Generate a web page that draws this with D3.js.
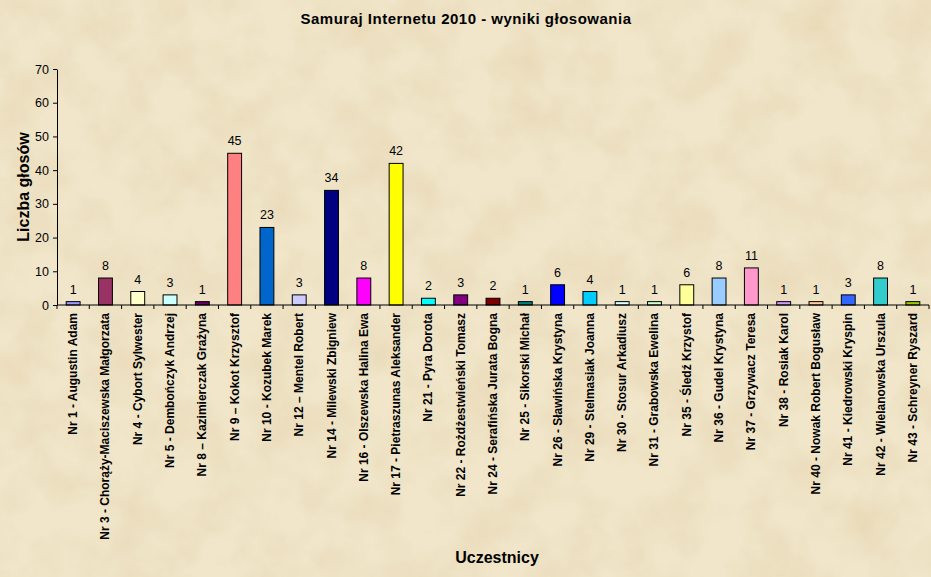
<!DOCTYPE html>
<html>
<head>
<meta charset="utf-8">
<script src="https://cdnjs.cloudflare.com/ajax/libs/d3/7.8.5/d3.min.js"></script>
<style>
  body { margin: 0; background: #ecdfc1; }
  svg { display: block; font-family: "Liberation Sans", Arial, sans-serif; }
  .axis path, .axis line { stroke: #000; }
  .axis text { fill: #000; }
</style>
</head>
<body>
<script>
// data
const candidates = [
  "Nr 1 - Augustin Adam", "Nr 3 - Chorąży-Maciszewska Małgorzata", "Nr 4 - Cybort Sylwester",
  "Nr 5 - Dembończyk Andrzej", "Nr 8 – Kazimierczak Grażyna", "Nr 9 – Kokot Krzysztof",
  "Nr 10 - Kozubek Marek", "Nr 12 – Mentel Robert", "Nr 14 - Milewski Zbigniew",
  "Nr 16 - Olszewska Halina Ewa", "Nr 17 - Pietraszunas Aleksander", "Nr 21 - Pyra Dorota",
  "Nr 22 - Rożdżestwieński Tomasz", "Nr 24 - Serafińska Jurata Bogna", "Nr 25 - Sikorski Michał",
  "Nr 26 - Sławińska Krystyna", "Nr 29 - Stelmasiak Joanna", "Nr 30 - Stosur Arkadiusz",
  "Nr 31 - Grabowska Ewelina", "Nr 35 - Śledź Krzystof", "Nr 36 - Gudel Krystyna",
  "Nr 37 - Grzywacz Teresa", "Nr 38 - Rosiak Karol", "Nr 40 - Nowak Robert Bogusław",
  "Nr 41 - Kiedrowski Kryspin", "Nr 42 - Wielanowska Urszula", "Nr 43 - Schreyner Ryszard"
];
const votes = [1, 8, 4, 3, 1, 45, 23, 3, 34, 8, 42, 2, 3, 2, 1, 6, 4, 1, 1, 6, 8, 11, 1, 1, 3, 8, 1];
const barColors = [
  "#9999ff", "#993366", "#ffffcc", "#ccffff", "#660066", "#ff8080", "#0066cc", "#ccccff", "#000080",
  "#ff00ff", "#ffff00", "#00ffff", "#800080", "#800000", "#008080", "#0000ff", "#00ccff", "#ddffff",
  "#ccffcc", "#ffff99", "#99ccff", "#ff99cc", "#cc99ff", "#ffcc99", "#3366ff", "#33cccc", "#99cc00"
];
const yTicks = [0, 10, 20, 30, 40, 50, 60, 70];

const w = 931, h = 577;
const pLeft = 57, pRight = 929, pTop = 69, pBottom = 305;

const svg = d3.select("body").append("svg")
  .attr("width", w)
  .attr("height", h);

// parchment background
const defs = svg.append("defs");
const f = defs.append("filter").attr("id", "paper")
  .attr("x", 0).attr("y", 0).attr("width", "100%").attr("height", "100%");
f.append("feTurbulence")
  .attr("type", "fractalNoise")
  .attr("baseFrequency", 0.02)
  .attr("numOctaves", 5)
  .attr("seed", 7)
  .attr("result", "noise");
f.append("feColorMatrix")
  .attr("in", "noise")
  .attr("type", "matrix")
  .attr("values", "0 0 0 0 0.80  0 0 0 0 0.68  0 0 0 0 0.46  1.5 0 0 0 -0.55");

svg.append("rect").attr("width", w).attr("height", h).attr("fill", "#f1e6ca");
svg.append("rect").attr("width", w).attr("height", h).attr("filter", "url(#paper)");

const x = d3.scaleBand()
  .domain(candidates)
  .range([pLeft, pRight])
  .paddingInner(0.57)
  .paddingOuter(0.285);

const y = d3.scaleLinear()
  .domain([0, 70])
  .range([pBottom, pTop]);

// bars
svg.selectAll("rect.bar")
  .data(candidates)
  .enter()
  .append("rect")
  .attr("class", "bar")
  .attr("x", d => x(d))
  .attr("y", (d, i) => y(votes[i]))
  .attr("width", x.bandwidth())
  .attr("height", (d, i) => y(0) - y(votes[i]))
  .attr("fill", (d, i) => barColors[i])
  .attr("stroke", "#000")
  .attr("stroke-width", 1);

// value labels
svg.selectAll("text.val")
  .data(candidates)
  .enter()
  .append("text")
  .attr("class", "val")
  .attr("x", d => x(d) + x.bandwidth() / 2)
  .attr("y", (d, i) => y(votes[i]) - 8)
  .attr("text-anchor", "middle")
  .attr("font-size", 12.5)
  .text((d, i) => votes[i]);

// y axis
svg.append("g")
  .attr("class", "axis")
  .attr("transform", "translate(" + pLeft + ",0)")
  .call(d3.axisLeft(y).tickValues(yTicks).tickSize(4).tickSizeOuter(0).tickPadding(4))
  .selectAll("text")
  .attr("font-size", 12.5)
  .attr("font-family", "Liberation Sans, Arial, sans-serif");

// x axis: ticks on category boundaries
const xAxis = svg.append("g")
  .attr("class", "axis")
  .attr("transform", "translate(0," + pBottom + ")");
xAxis.append("line")
  .attr("x1", pLeft).attr("x2", pRight)
  .attr("stroke", "#000");
const step = x.step();
xAxis.selectAll("line.tick")
  .data(d3.range(candidates.length + 1))
  .enter()
  .append("line")
  .attr("class", "tick")
  .attr("x1", i => pLeft + i * step)
  .attr("x2", i => pLeft + i * step)
  .attr("y1", 0).attr("y2", 4)
  .attr("stroke", "#000");

// category labels
svg.selectAll("text.cat")
  .data(candidates)
  .enter()
  .append("text")
  .attr("class", "cat")
  .attr("transform", d => "translate(" + (x(d) + x.bandwidth() / 2 + 4) + "," + (pBottom + 8) + ") rotate(-90)")
  .attr("text-anchor", "end")
  .attr("font-size", 12)
  .attr("font-weight", "bold")
  .text(d => d);

// titles
svg.append("text")
  .attr("x", 466).attr("y", 24)
  .attr("text-anchor", "middle")
  .attr("font-size", 15)
  .attr("font-weight", "bold")
  .attr("letter-spacing", 0.5)
  .text("Samuraj Internetu 2010 - wyniki głosowania");

svg.append("text")
  .attr("transform", "translate(29," + ((pTop + pBottom) / 2) + ") rotate(-90)")
  .attr("text-anchor", "middle")
  .attr("font-size", 16)
  .attr("font-weight", "bold")
  .text("Liczba głosów");

svg.append("text")
  .attr("x", 497).attr("y", 563)
  .attr("text-anchor", "middle")
  .attr("font-size", 16)
  .attr("font-weight", "bold")
  .text("Uczestnicy");
</script>
</body>
</html>
